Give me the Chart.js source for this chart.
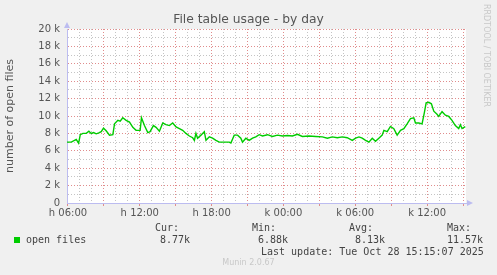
<!DOCTYPE html>
<html>
<head>
<meta charset="utf-8">
<script src="https://cdn.jsdelivr.net/npm/chart.js@4/dist/chart.umd.min.js"></script>
<style>
  body { margin: 0; background: #f0f0f0; }
  #wrap { position: relative; width: 497px; height: 275px; overflow: hidden; }
  canvas { position: absolute; left: 0; top: 0; }
  .t { position: absolute; white-space: pre; font-family: "DejaVu Sans Mono", monospace; font-size: 10px; color: #444; line-height: 12px; }
  #title { position: absolute; left: 0; width: 497px; top: 12px; text-align: center; font-family: "DejaVu Sans", sans-serif; font-size: 12.3px; color: #555; }
  #rrd { position: absolute; left: 482px; top: 4px; writing-mode: vertical-rl; font-family: "DejaVu Sans", sans-serif; font-size: 8px; color: #c8c8c8; }
  #munin { position: absolute; left: 0; width: 497px; top: 258px; text-align: center; font-family: "DejaVu Sans", sans-serif; font-size: 8px; color: #c8c8c8; }
  #sw { position: absolute; left: 14px; top: 237px; width: 6px; height: 6px; background: #00cc00; }
</style>
</head>
<body>
<div id="wrap">
  <canvas id="c" width="497" height="275"></canvas>
  <div id="title">File table usage - by day</div>
  <div id="rrd">RRDTOOL / TOBI OETIKER</div>
  <div id="sw"></div>
  <div class="t" style="left:26px;top:234px">open files</div>
  <div class="t" style="left:155px;top:222px">Cur:</div>
  <div class="t" style="left:252px;top:222px">Min:</div>
  <div class="t" style="left:349px;top:222px">Avg:</div>
  <div class="t" style="left:447px;top:222px">Max:</div>
  <div class="t" style="left:160px;top:234px">8.77k</div>
  <div class="t" style="left:258px;top:234px">6.88k</div>
  <div class="t" style="left:355px;top:234px">8.13k</div>
  <div class="t" style="left:447px;top:234px">11.57k</div>
  <div class="t" style="left:261px;top:246px">Last update: Tue Oct 28 15:15:07 2025</div>
  <div id="munin">Munin 2.0.67</div>
</div>
<script>
// time in hours since Monday 00:00 (h = hétfő, k = kedd)
const hours = [5.92, 6.28, 6.69, 6.89, 7.03, 7.25, 7.53, 7.75, 7.94, 8.14, 8.36, 8.58, 8.78, 8.97,
  9.19, 9.47, 9.75, 9.89, 10.17, 10.36, 10.58, 10.86, 11.14, 11.42, 11.69, 12.03, 12.14, 12.39,
  12.67, 12.86, 13.14, 13.36, 13.64, 13.92, 14.19, 14.47, 14.75, 15.03, 15.31, 15.58, 15.86,
  16.14, 16.42, 16.56, 16.69, 16.83, 17.11, 17.39, 17.53, 17.81, 18.08, 18.36, 18.64, 19.06,
  19.47, 19.61, 19.89, 20.17, 20.44, 20.58, 20.86, 21.14, 21.42, 21.69, 21.97, 22.25, 22.67,
  23.08, 23.5, 23.92, 24.33, 24.75, 25.17, 25.58, 26.14, 26.69, 27.25, 27.67, 28.08, 28.5,
  28.92, 29.33, 29.75, 30.03, 30.31, 30.58, 30.86, 31.14, 31.42, 31.69, 31.97, 32.25, 32.39,
  32.67, 32.94, 33.22, 33.5, 33.78, 34.06, 34.33, 34.61, 34.89, 35.03, 35.31, 35.58, 35.78,
  35.92, 36.14, 36.36, 36.56, 36.83, 36.97, 37.25, 37.53, 37.81, 38.08, 38.36, 38.64, 38.78,
  38.92, 39.19];
const openFiles = [7000, 7000, 7300, 6880, 7850, 8000, 8000, 8250, 8000, 8100, 7950, 8050, 8200, 8600,
  8300, 7800, 7850, 9100, 9500, 9400, 9800, 9500, 9300, 8700, 8350, 8350, 9800, 8900,
  8100, 8200, 8900, 8700, 8250, 9200, 9000, 8900, 9200, 8750, 8550, 8350, 8000,
  7700, 7500, 7200, 8000, 7450, 7800, 8200, 7200, 7600, 7450, 7200, 7000, 7000,
  7000, 6900, 7800, 7800, 7450, 7000, 7450, 7200, 7450, 7600, 7850, 7700, 7850,
  7650, 7800, 7700, 7750, 7700, 7900, 7650, 7700, 7650, 7600, 7450, 7600, 7500,
  7600, 7500, 7200, 7450, 7600, 7450, 7200, 7000, 7450, 7100, 7450, 7800, 8350,
  8200, 8800, 8550, 7800, 8350, 8550, 9100, 9700, 9800, 9200, 9200, 9100, 10450,
  11500, 11570, 11400, 10550, 10200, 9950, 10500, 10100, 9950, 9500, 8900, 8550, 9000,
  8550, 8770];
const yTicks = [0, 2000, 4000, 6000, 8000, 10000, 12000, 14000, 16000, 18000, 20000];
const xStart = 5.92, xEnd = 39.25;

const axisCol = '#bcbcf0';
const pad2 = n => String(n).padStart(2, '0');

const bgPlugin = {
  id: 'bg',
  beforeDraw(chart) {
    const a = chart.chartArea, ctx = chart.ctx;
    ctx.save();
    ctx.fillStyle = '#ffffff';
    ctx.fillRect(a.left, a.top, a.right - a.left, a.bottom - a.top);
    ctx.restore();
  },
  afterDraw(chart) {
    const a = chart.chartArea, ctx = chart.ctx;
    ctx.save();
    ctx.fillStyle = axisCol;
    ctx.beginPath();
    ctx.moveTo(a.left - 3, a.top - 1); ctx.lineTo(a.left + 3, a.top - 1); ctx.lineTo(a.left, a.top - 7);
    ctx.fill();
    ctx.beginPath();
    ctx.moveTo(a.right + 1, a.bottom - 3); ctx.lineTo(a.right + 1, a.bottom + 3); ctx.lineTo(a.right + 7, a.bottom);
    ctx.fill();
    ctx.restore();
  }
};

new Chart(document.getElementById('c'), {
  type: 'line',
  data: {
    datasets: [{
      data: hours.map((h, i) => ({ x: h, y: openFiles[i] })),
      borderColor: '#00cc00',
      borderWidth: 1.4,
      pointRadius: 0,
      tension: 0,
      fill: false
    }]
  },
  options: {
    responsive: false,
    animation: false,
    layout: { padding: { top: 29, right: 31, bottom: 52, left: 0 } },
    plugins: { legend: { display: false }, tooltip: { enabled: false } },
    scales: {
      x: {
        type: 'linear',
        min: xStart,
        max: xEnd,
        afterFit: s => { s.height = 20; },
        afterBuildTicks: s => {
          const t = [];
          for (let h = 6; h <= 39; h++) t.push({ value: h });
          s.ticks = t;
        },
        ticks: {
          autoSkip: false, maxRotation: 0, padding: 1,
          font: { family: 'DejaVu Sans', size: 10 }, color: '#555',
          callback: v => v % 6 !== 0 ? '' : (v < 24 ? 'h ' : 'k ') + pad2(v % 24) + ':00'
        },
        grid: {
          color: c => c.tick && c.tick.value % 3 === 0 ? '#e08c8c' : '#c4c4c4',
          tickColor: c => c.tick && c.tick.value % 3 === 0 ? '#e08c8c' : 'rgba(0,0,0,0)',
          tickLength: 3, lineWidth: 1
        },
        border: { color: axisCol, width: 1, dash: [1, 2] }
      },
      y: {
        min: 0,
        max: 20000,
        afterFit: s => { s.width = 67; },
        afterBuildTicks: s => {
          const t = [];
          for (let v = 0; v <= 20000; v += 1000) t.push({ value: v });
          s.ticks = t;
        },
        ticks: {
          autoSkip: false, padding: 7,
          font: { family: 'DejaVu Sans', size: 10 }, color: '#555',
          callback: v => yTicks.includes(v) ? (v === 0 ? '0' : v / 1000 + ' k') : ''
        },
        grid: {
          drawTicks: false,
          color: c => c.tick && c.tick.value % 2000 === 0 ? '#e08c8c' : '#c4c4c4',
          lineWidth: 1
        },
        border: { color: axisCol, width: 1, dash: [1, 2] },
        title: {
          display: true, text: 'number of open files',
          font: { family: 'DejaVu Sans', size: 11 }, color: '#555',
          padding: { top: 4, bottom: 0 }
        }
      }
    }
  },
  plugins: [bgPlugin]
});
</script>
</body>
</html>
